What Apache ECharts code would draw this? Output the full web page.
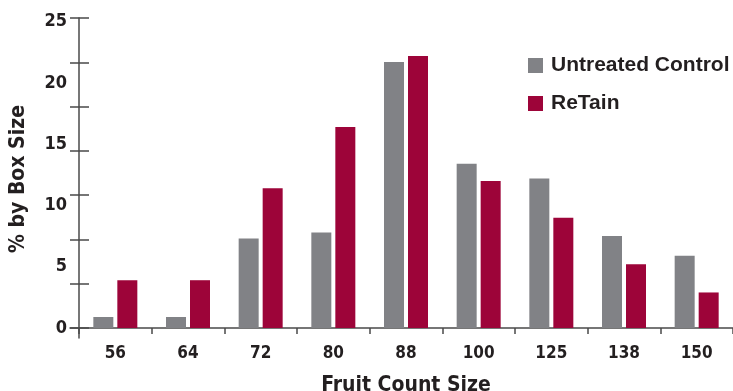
<!DOCTYPE html>
<html>
<head>
<meta charset="utf-8">
<script src="https://cdn.jsdelivr.net/npm/echarts@6/dist/echarts.min.js"></script>
<style>
html,body{margin:0;padding:0;background:#fff;}
#chart{width:733px;height:391px;}
</style>
</head>
<body>
<div id="chart"></div>
<script>
const categories = ['56', '64', '72', '80', '88', '100', '125', '138', '150'];
const untreatedControl = [0.9, 0.9, 7.3, 7.8, 21.7, 13.4, 12.2, 7.5, 5.9];
const reTain = [3.9, 3.9, 11.4, 16.4, 22.2, 12.0, 9.0, 5.2, 2.9];
const seriesNames = ['Untreated Control', 'ReTain'];
const yLabelStep = 5;

const ink = '#231f20';
const axisColor = '#4a4a4a';
const condFont = "'DejaVu Sans Condensed', 'Liberation Sans Narrow', sans-serif";
const yMax = 25.3;

const chart = echarts.init(document.getElementById('chart'), null, {renderer: 'canvas'});
chart.setOption({
  backgroundColor: '#ffffff',
  animation: false,
  legend: {
    data: seriesNames,
    orient: 'vertical',
    left: 523,
    top: 50,
    itemWidth: 15,
    itemHeight: 15,
    itemGap: 17,
    icon: 'rect',
    textStyle: {fontFamily: "'Liberation Sans', Arial, sans-serif", fontWeight: 'bold', fontSize: 21, color: ink, padding: [0, 0, 0, 3]}
  },
  grid: [
    {left: 79, right: 0, top: 18, bottom: 63, containLabel: false, outerBoundsMode: 'none'},
    {left: 70, right: 0, top: 18, bottom: 53, containLabel: false, outerBoundsMode: 'none'}
  ],
  xAxis: [
    {
      gridIndex: 0,
      type: 'category',
      data: categories,
      axisLine: {show: false},
      axisTick: {show: true, length: 6, lineStyle: {color: axisColor, width: 1.5}},
      axisLabel: {fontFamily: condFont, fontWeight: 'bold', fontSize: 17, color: ink, margin: 17},
      splitLine: {show: false},
      name: 'Fruit Count Size',
      nameLocation: 'middle',
      nameGap: 47,
      nameTextStyle: {fontFamily: condFont, fontWeight: 'bold', fontSize: 21, color: ink}
    },
    {
      gridIndex: 1,
      type: 'value',
      min: 0,
      max: 1,
      axisLine: {show: true, onZero: true, lineStyle: {color: axisColor, width: 1.5}},
      axisTick: {show: false},
      axisLabel: {show: false},
      splitLine: {show: false}
    }
  ],
  yAxis: [
    {
      gridIndex: 0,
      type: 'value',
      position: 'left',
      min: 0,
      max: yMax,
      interval: yLabelStep,
      axisLine: {show: false},
      axisTick: {show: false},
      splitLine: {show: false},
      axisLabel: {
        fontFamily: condFont, fontWeight: 'bold', fontSize: 18, color: ink, margin: 12,
        formatter: function (v) { return Math.abs(v - Math.round(v / yLabelStep) * yLabelStep) < 1e-6 ? String(Math.round(v)) : ''; }
      },
      name: '% by Box Size',
      nameLocation: 'middle',
      nameGap: 50,
      nameRotate: 90,
      nameTextStyle: {fontFamily: condFont, fontWeight: 'bold', fontSize: 21, color: ink, padding: [0, 12, 0, 0]}
    },
    {
      gridIndex: 0,
      type: 'value',
      position: 'left',
      min: 0,
      max: yMax,
      interval: yMax / 7,
      axisLine: {show: false},
      axisTick: {show: true, inside: false, length: 9, lineStyle: {color: axisColor, width: 1.5}},
      axisLabel: {show: false},
      splitLine: {show: false}
    },
    {
      gridIndex: 0,
      type: 'value',
      position: 'left',
      min: 0,
      max: yMax,
      interval: yMax / 7,
      axisLine: {show: false},
      axisTick: {show: true, inside: true, length: 10, lineStyle: {color: axisColor, width: 1.5}},
      axisLabel: {show: false},
      splitLine: {show: false}
    },
    {
      gridIndex: 1,
      type: 'value',
      position: 'left',
      offset: -9,
      min: -1,
      max: 31,
      axisLine: {show: true, onZero: false, lineStyle: {color: axisColor, width: 1.5}},
      axisTick: {show: false},
      axisLabel: {show: false},
      splitLine: {show: false}
    }
  ],
  series: [
    {
      name: seriesNames[0],
      type: 'bar',
      xAxisIndex: 0,
      yAxisIndex: 0,
      data: untreatedControl,
      barWidth: 20,
      barGap: '20%',
      itemStyle: {color: '#818286'}
    },
    {
      name: seriesNames[1],
      type: 'bar',
      xAxisIndex: 0,
      yAxisIndex: 0,
      data: reTain,
      barWidth: 20,
      barGap: '20%',
      itemStyle: {color: '#9d0439'}
    }
  ]
});
</script>
</body>
</html>
